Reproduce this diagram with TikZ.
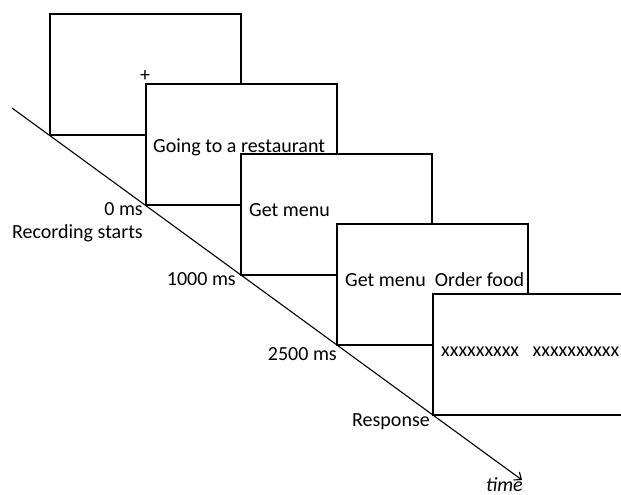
\documentclass[tikz,border=0pt]{standalone}
\usepackage{fontspec}
\setmainfont{Carlito}
\usetikzlibrary{arrows.meta,positioning}

\begin{document}
\begin{tikzpicture}[x=1pt,y=-1pt]
  \tikzstyle{screen}=[rectangle, draw, fill=white, line width=2pt, minimum width=191pt, minimum height=121pt, inner sep=0pt]
  \tikzstyle{txt}=[inner sep=0pt, font=\fontsize{20}{23}\selectfont]
  \tikzstyle{axis}=[line width=1.1pt, -{Straight Barb[length=6pt,width=10pt]}]

  \useasboundingbox (0,0) rectangle (621,495);
  \clip (0,0) rectangle (621,495);

  % time axis
  \coordinate (t0) at (12,108);
  \coordinate (t1) at (522,480);
  \draw[axis] (t0) -- (t1);

  % screens
  \node[screen] (s1) at (145.5,74.5) {};
  \node[txt] (fix) at (145,76) {+};
  \node[screen] (s2) at (241,144.5) {};
  \node[txt, anchor=base west] (c2) at (153,152) {Going to a restaurant};
  \node[screen] (s3) at (336.5,214.5) {};
  \node[txt, anchor=base west] (c3) at (249,216) {Get menu};
  \node[screen] (s4) at (432,284.5) {};
  \node[txt, anchor=base west] (c4) at (345,286) {Get menu~~Order food};
  \node[screen] (s5) at (528,354.5) {};
  \node[txt, anchor=base west] (c5) at (441,356) {xxxxxxxxx~~~xxxxxxxxxx};

  % time labels
  \node[txt, anchor=base east] (m0) at (143,215) {0 ms};
  \node[txt, anchor=base east] (rec) at (143,238) {Recording starts};
  \node[txt, anchor=base east] (m1) at (236,285) {1000 ms};
  \node[txt, anchor=base east] (m2) at (337,360) {2500 ms};
  \node[txt, anchor=base east] (resp) at (430,426) {Response};
  \node[txt, anchor=base west, font=\fontsize{20}{23}\selectfont\itshape] (tm) at (486,491) {time};
\end{tikzpicture}
\end{document}
